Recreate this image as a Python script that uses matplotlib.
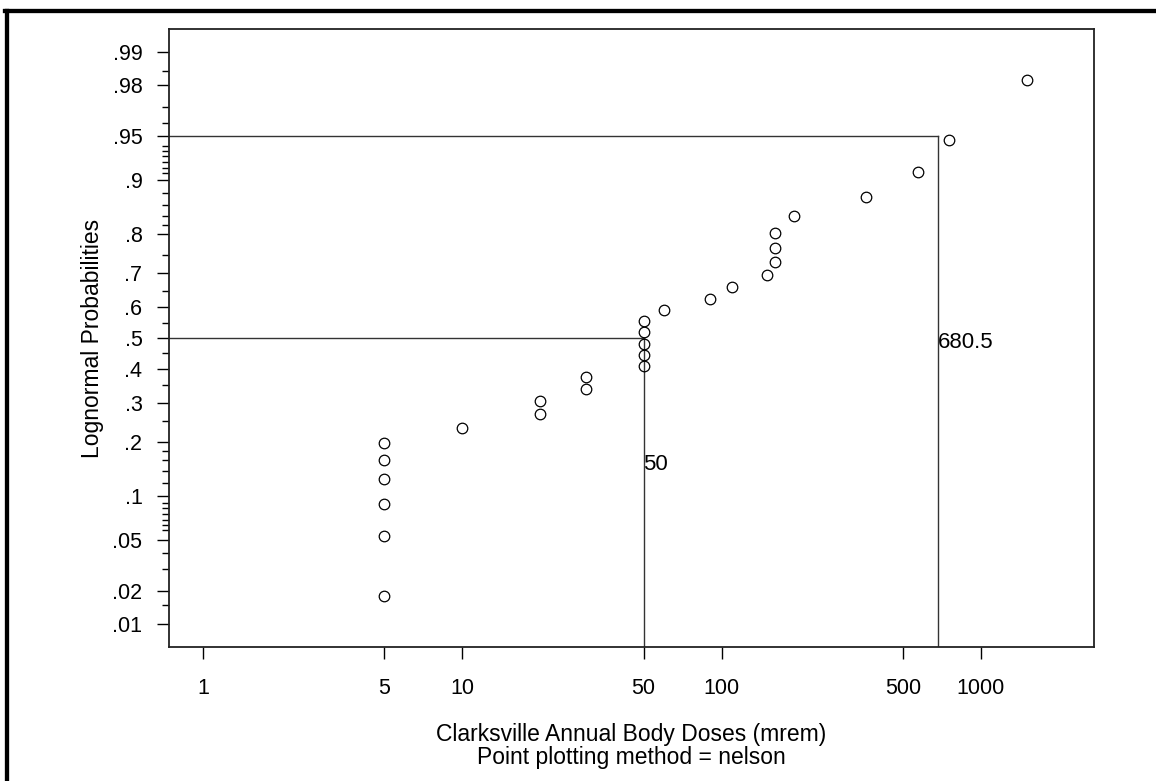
from statistics import NormalDist
import numpy as np
import matplotlib
matplotlib.use("Agg")
import matplotlib.pyplot as plt
from matplotlib.lines import Line2D
import matplotlib.ticker as mticker
import matplotlib.transforms as mtransforms

plt.rcParams['font.family'] = ['Liberation Sans', 'DejaVu Sans']

# annual body doses (mrem) with their plotting positions
doses = [5, 5, 5, 5, 5, 5, 10, 20, 20, 30, 30, 50, 50, 50, 50, 50,
         60, 90, 110, 150, 160, 160, 160, 190, 360, 570, 750, 1500]
probs = [.018, .054, .089, .125, .161, .196, .232, .268, .304, .339, .375,
         .411, .446, .482, .518, .554, .589, .625, .661, .696, .732, .768,
         .804, .839, .875, .911, .946, .982]

# fitted quantiles marked with drop lines
ref_probs = [0.5, 0.95]
ref_doses = [50, 680.5]
ref_labels = ["50", "680.5"]
ref_label_y = [0.295, 0.492]   # axes fraction

xticks = [1, 5, 10, 50, 100, 500, 1000]
xtick_labels = ["1", "5", "10", "50", "100", "500", "1000"]
yticks = [.01, .02, .05, .1, .2, .3, .4, .5, .6, .7, .8, .9, .95, .98, .99]
ytick_labels = [".01", ".02", ".05", ".1", ".2", ".3", ".4", ".5", ".6",
                ".7", ".8", ".9", ".95", ".98", ".99"]
yminor = [.015, .03, .04, .059, .064, .07, .076, .083, .09, .12, .14, .16,
          .18, .25, .35, .45, .55, .65, .75, .82, .84, .86, .88, .91, .917,
          .924, .93, .936, .941, .96, .97, .985]

nd = NormalDist()
_ppf = np.vectorize(lambda p: nd.inv_cdf(min(max(p, 1e-9), 1 - 1e-9)), otypes=[float])
_cdf = np.vectorize(lambda z: nd.cdf(z), otypes=[float])


def prob_fwd(p):
    return _ppf(np.asarray(p, dtype=float))


def prob_inv(z):
    return _cdf(np.asarray(z, dtype=float))


W, H = 1156, 781
fig = plt.figure(figsize=(W / 100, H / 100), dpi=100)
ax = fig.add_axes([169 / W, 1 - 647 / H, (1094 - 169) / W, (647 - 29) / H])

ax.set_xscale('log')
ax.set_yscale('function', functions=(prob_fwd, prob_inv))
ax.set_xlim(0.7396, 2730)
ax.set_ylim(0.006, 0.994)

ax.plot(doses, probs, 'o', mfc='none', mec='black', ms=7.6, mew=0.9, zorder=3)

x0 = ax.get_xlim()[0]
y0 = ax.get_ylim()[0]
for p, d in zip(ref_probs, ref_doses):
    ax.plot([x0, d], [p, p], color='#333333', lw=1.0)
    ax.plot([d, d], [y0, p], color='#333333', lw=1.0)

trans = mtransforms.blended_transform_factory(ax.transData, ax.transAxes)
for d, lab, yy in zip(ref_doses, ref_labels, ref_label_y):
    ax.text(d, yy, lab, transform=trans, ha='left', va='center', fontsize=16)

ax.xaxis.set_major_locator(mticker.FixedLocator(xticks))
ax.xaxis.set_major_formatter(mticker.FixedFormatter(xtick_labels))
ax.xaxis.set_minor_locator(mticker.NullLocator())
ax.yaxis.set_major_locator(mticker.FixedLocator(yticks))
ax.yaxis.set_major_formatter(mticker.FixedFormatter(ytick_labels))
ax.yaxis.set_minor_locator(mticker.FixedLocator(yminor))
ax.yaxis.set_minor_formatter(mticker.NullFormatter())

ax.tick_params(axis='x', which='major', length=8.6, width=1, pad=13.5, labelsize=15.5)
ax.tick_params(axis='y', which='major', length=8.6, width=1, pad=10.5, labelsize=15.5)
ax.tick_params(axis='y', which='minor', length=5, width=1)
for s in ax.spines.values():
    s.set_linewidth(1.3)
    s.set_color('#222222')

fig.text(92 / W, 1 - 338 / H, "Lognormal Probabilities", rotation=90,
         ha='center', va='center', fontsize=16.5)
fig.text(631.5 / W, 1 - 746 / H,
         "Clarksville Annual Body Doses (mrem)\nPoint plotting method = nelson",
         ha='center', va='center', fontsize=16.5, linespacing=1.0)

# thick frame on the left and top edges
fig.add_artist(Line2D([7 / W, 7 / W], [0, 1 - 11.3 / H], transform=fig.transFigure,
                      lw=3.1, color='black', solid_capstyle='projecting'))
fig.add_artist(Line2D([5 / W, 1], [1 - 11.3 / H, 1 - 11.3 / H], transform=fig.transFigure,
                      lw=3.1, color='black', solid_capstyle='projecting'))

fig.savefig("out.png", dpi=100)
